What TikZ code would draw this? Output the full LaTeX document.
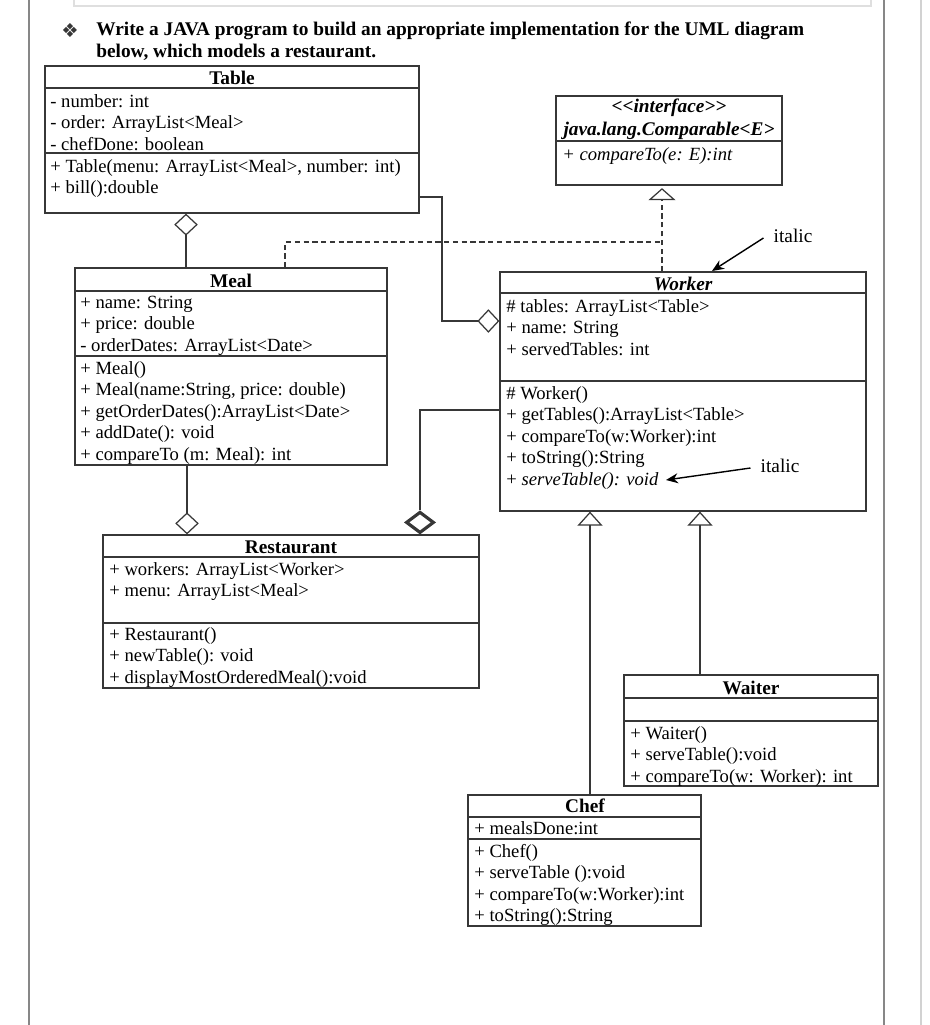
\documentclass[tikz,border=0pt]{standalone}
\usepackage{fontspec}
\setmainfont{Liberation Serif}
\newfontfamily\symbolfont{DejaVu Sans}
\usetikzlibrary{arrows.meta, positioning, fit}
\definecolor{umlLine}{RGB}{55,55,55}
\definecolor{frameGray}{RGB}{135,135,135}

\begin{document}
\begin{tikzpicture}[x=0.02cm, y=-0.02cm,
        classbox/.style={rectangle, draw=umlLine, line width=0.7pt, inner sep=0pt},
        classname/.style={anchor=base, inner sep=0pt, font=\fontsize{11}{13}\selectfont\bfseries},
        members/.style={anchor=north west, inner sep=0pt, align=left, font=\fontsize{10.6}{12.2}\selectfont},
        sepline/.style={draw=umlLine, line width=0.6pt},
        agg/.style={{Diamond[open, length=0.44cm, width=0.47cm]}-, draw=umlLine, line width=0.7pt},
        aggbold/.style={{Diamond[open, length=0.48cm, width=0.64cm, line width=1.8pt]}-, draw=umlLine, line width=0.7pt},
        gen/.style={-{Triangle[open, length=0.28cm, width=0.5cm]}, draw=umlLine, line width=0.7pt},
        real/.style={draw=umlLine, line width=0.7pt, dash pattern=on 3pt off 2pt},
        note/.style={font=\fontsize{11}{13}\selectfont},
        notearrow/.style={-{Stealth[length=2.4mm, width=2mm]}, line width=0.8pt}
    ]
        \useasboundingbox (0,0) rectangle (930,1025);

        % Page frame
        \draw[frameGray, line width=1.3pt] (29,0) -- (29,1025);
        \draw[frameGray, line width=1.3pt] (884,0) -- (884,1025);
        \draw[gray!25, line width=0.6pt] (74,0) |- (871,6) -- (871,0);
        \draw[gray!35, line width=1pt] (921,0) -- (921,1025);

        % Task
        \node[font=\symbolfont\fontsize{11}{13}\selectfont, text=umlLine] (bullet) at (70,30) {❖};
        \node[anchor=north west, inner sep=0pt, align=left, font=\fontsize{11}{12.5}\selectfont\bfseries] (task) at (96,20)
            {\strut Write a JAVA program to build an appropriate implementation for the UML diagram\\below, which models a restaurant.};

        % Table
        \node[classbox, fit={(45,66) (419,213)}] (table) {};
        \node[classname] (tableT) at (232,84) {Table};
        \draw[sepline] (45,88) -- (419,88);
        \node[members] (tableA) at (50,92) {\strut- number: int\\- order: ArrayList<Meal>\\- chefDone: boolean};
        \draw[sepline] (45,153) -- (419,153);
        \node[members] (tableM) at (50,157) {\strut+ Table(menu: ArrayList<Meal>, number: int)\\+ bill():double};

        % Comparable interface
        \node[classbox, fit={(556,96) (782,185)}] (iface) {};
        \node[classname, font=\fontsize{11}{13}\selectfont\bfseries\itshape] (ifaceS) at (669,112) {{<}{<}interface{>}{>}};
        \node[classname, font=\fontsize{11}{13}\selectfont\bfseries\itshape] (ifaceT) at (669,135) {java.lang.Comparable<E>};
        \draw[sepline] (556,141) -- (782,141);
        \node[members, font=\fontsize{10.6}{12.2}\selectfont\itshape] (ifaceM) at (562,145) {\strut+ compareTo(e: E):int};

        % Meal
        \node[classbox, fit={(75,268) (387,465)}] (meal) {};
        \node[classname] (mealT) at (231,287) {Meal};
        \draw[sepline] (75,291) -- (387,291);
        \node[members] (mealA) at (80,293) {\strut+ name: String\\+ price: double\\- orderDates: ArrayList<Date>};
        \draw[sepline] (75,356) -- (387,356);
        \node[members] (mealM) at (80,359) {\strut+ Meal()\\+ Meal(name:String, price: double)\\+ getOrderDates():ArrayList<Date>\\+ addDate(): void\\+ compareTo (m: Meal): int};

        % Worker
        \node[classbox, fit={(500,272) (866,511)}] (worker) {};
        \node[classname, font=\fontsize{11}{13}\selectfont\bfseries\itshape] (workerT) at (683,290) {Worker};
        \draw[sepline] (500,293) -- (866,293);
        \node[members] (workerA) at (506,297) {\strut\# tables: ArrayList<Table>\\+ name: String\\+ servedTables: int};
        \draw[sepline] (500,381) -- (866,381);
        \node[members] (workerM) at (506,384) {\strut\# Worker()\\+ getTables():ArrayList<Table>\\+ compareTo(w:Worker):int\\+ toString():String\\+ \textit{serveTable(): void}};

        % Restaurant
        \node[classbox, fit={(103,535) (479,688)}] (restaurant) {};
        \node[classname] (restaurantT) at (291,553) {Restaurant};
        \draw[sepline] (103,557) -- (479,557);
        \node[members] (restaurantA) at (109,560) {\strut+ workers: ArrayList<Worker>\\+ menu: ArrayList<Meal>};
        \draw[sepline] (103,623) -- (479,623);
        \node[members] (restaurantM) at (109,625) {\strut+ Restaurant()\\+ newTable(): void\\+ displayMostOrderedMeal():void};

        % Waiter
        \node[classbox, fit={(624,675) (878,786)}] (waiter) {};
        \node[classname] (waiterT) at (751,694) {Waiter};
        \draw[sepline] (624,698) -- (878,698);
        \draw[sepline] (624,721) -- (878,721);
        \node[members] (waiterM) at (630,724) {\strut+ Waiter()\\+ serveTable():void\\+ compareTo(w: Worker): int};

        % Chef
        \node[classbox, fit={(468,795) (701,926)}] (chef) {};
        \node[classname] (chefT) at (585,812) {Chef};
        \draw[sepline] (468,817) -- (701,817);
        \node[members] (chefA) at (474,819) {\strut+ mealsDone:int};
        \draw[sepline] (468,839) -- (701,839);
        \node[members] (chefM) at (474,842) {\strut+ Chef()\\+ serveTable ():void\\+ compareTo(w:Worker):int\\+ toString():String};

        % Aggregations
        \draw[agg] (table.south -| 186,0) -- (meal.north -| 186,0);
        \draw[agg] (restaurant.north -| 187,0) -- (meal.south -| 187,0);
        \draw[agg] (worker.west |- 0,321) -| (442,197) -- (table.east |- 0,197);
        \draw[aggbold] (restaurant.north -| 420,0) |- (worker.west |- 0,410);

        % Realizations
        \coordinate (realJoin) at (662,242);
        \draw[real, -{Triangle[open, length=0.24cm, width=0.54cm]}, shorten >=0.05cm] (worker.north -| realJoin) -- (iface.south -| realJoin);
        \draw[real] (meal.north -| 285,0) |- (realJoin);

        % Generalizations
        \draw[gen] (chef.north -| 590,0) -- (worker.south -| 590,0);
        \draw[gen] (waiter.north -| 700,0) -- (worker.south -| 700,0);

        % Notes
        \node[note] (noteTitle) at (793,236) {italic};
        \coordinate (titleTip) at (712,271);
        \draw[notearrow] (noteTitle.west) ++(-4,2) -- (titleTip);
        \node[note] (noteServe) at (780,466) {italic};
        \coordinate (serveTip) at (666,480);
        \draw[notearrow] (noteServe.west) ++(-4,2) -- (serveTip);
    \end{tikzpicture}
\end{document}
